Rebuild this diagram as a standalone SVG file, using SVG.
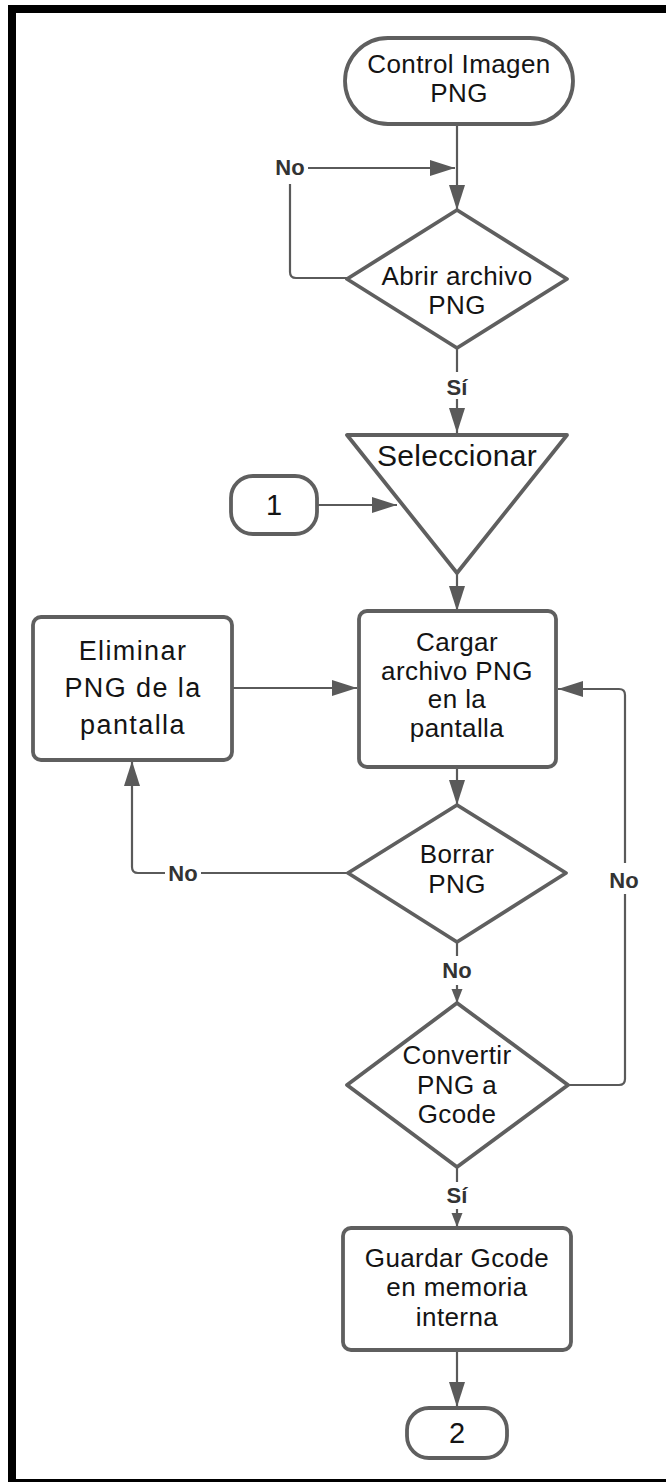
<svg xmlns="http://www.w3.org/2000/svg" width="666" height="1482" viewBox="0 0 666 1482">
  <style>
    .shape { fill: #ffffff; stroke: #5f5f5f; stroke-width: 3.8; stroke-linejoin: round; }
    .txt { font-family: "Liberation Sans", Arial, sans-serif; font-size: 26px; fill: #141414; text-anchor: middle; letter-spacing: 0.4px; }
    .big { font-size: 27px; letter-spacing: 1.4px; }
    .sel { font-size: 30px; letter-spacing: 0.3px; }
    .num { font-size: 29px; letter-spacing: 0; }
    .lbl { font-family: "Liberation Sans", Arial, sans-serif; font-size: 22px; font-weight: bold; fill: #333333; text-anchor: middle; }
    .wire { fill: none; stroke: #5a5a5a; stroke-width: 2.2; stroke-linejoin: round; }
    .arrow { marker-end: url(#head); }
    .arrow-sm { marker-end: url(#head-sm); }
  </style>
  <defs>
    <marker id="head" markerUnits="userSpaceOnUse" markerWidth="26" markerHeight="18" refX="25" refY="8" orient="auto">
      <path d="M0,0 L25,8 L0,16 Z" fill="#5a5a5a"/>
    </marker>
    <marker id="head-sm" markerUnits="userSpaceOnUse" markerWidth="16" markerHeight="12" refX="14" refY="5.5" orient="auto">
      <path d="M0,0 L14,5.5 L0,11 Z" fill="#5a5a5a"/>
    </marker>
  </defs>

  <rect width="666" height="1482" fill="#ffffff"/>
  <!-- outer frame -->
  <rect x="12" y="9" width="664" height="1474" fill="none" stroke="#000000" stroke-width="8"/>

  <!-- connectors -->
  <g id="connectors">
    <path class="wire arrow" d="M457,124 V210"/>
    <path class="wire" d="M347,278 H296 Q290,278 290,272 V184"/>
    <path class="wire arrow" d="M308,168 H455"/>
    <text class="lbl" x="290" y="175">No</text>

    <path class="wire" d="M457,348 V372"/>
    <text class="lbl" x="457" y="395">Sí</text>
    <path class="wire arrow" d="M457,399 V433"/>

    <path class="wire arrow" d="M317,505 H397"/>
    <path class="wire arrow" d="M457,573 V611"/>
    <path class="wire arrow" d="M232,688 H357"/>
    <path class="wire arrow" d="M457,767 V805"/>

    <path class="wire" d="M348,873 H201"/>
    <text class="lbl" x="183" y="881">No</text>
    <path class="wire arrow" d="M165,873 H138 Q132,873 132,867 V761"/>

    <path class="wire" d="M457,942 V956"/>
    <text class="lbl" x="457" y="978">No</text>
    <path class="wire arrow-sm" d="M457,985 V1003"/>

    <path class="wire" d="M568,1085 H619 Q625,1085 625,1079 V894"/>
    <text class="lbl" x="624" y="888">No</text>
    <path class="wire arrow" d="M625,863 V695 Q625,689 619,689 H558"/>

    <path class="wire" d="M457,1167 V1182"/>
    <text class="lbl" x="457" y="1203">Sí</text>
    <path class="wire arrow-sm" d="M457,1209 V1227"/>

    <path class="wire arrow" d="M457,1350 V1407"/>
  </g>

  <g id="start">
    <rect class="shape" x="345" y="38" width="228" height="86" rx="43"/>
    <text class="txt" x="459" y="73">Control Imagen</text>
    <text class="txt" x="459" y="102">PNG</text>
  </g>

  <g id="open-file">
    <polygon class="shape" points="457,210 567,279 457,348 347,279"/>
    <text class="txt" x="457" y="285">Abrir archivo</text>
    <text class="txt" x="457" y="314">PNG</text>
  </g>

  <g id="select">
    <polygon class="shape" points="347,435 567,435 457,573"/>
    <text class="txt sel" x="457" y="466">Seleccionar</text>
  </g>

  <g id="connector-1">
    <rect class="shape" x="231" y="476" width="86" height="58" rx="22"/>
    <text class="txt num" x="274" y="515">1</text>
  </g>

  <g id="remove-png">
    <rect class="shape" x="33" y="617" width="199" height="143" rx="8"/>
    <text class="txt big" x="133" y="660">Eliminar</text>
    <text class="txt big" x="133" y="697">PNG de la</text>
    <text class="txt big" x="133" y="734">pantalla</text>
  </g>

  <g id="load-png">
    <rect class="shape" x="359" y="611" width="197" height="156" rx="8"/>
    <text class="txt" x="457" y="651">Cargar</text>
    <text class="txt" x="457" y="680">archivo PNG</text>
    <text class="txt" x="457" y="708">en la</text>
    <text class="txt" x="457" y="737">pantalla</text>
  </g>

  <g id="delete-png">
    <polygon class="shape" points="457,805 566,873 457,942 348,873"/>
    <text class="txt" x="457" y="863">Borrar</text>
    <text class="txt" x="457" y="893">PNG</text>
  </g>

  <g id="convert">
    <polygon class="shape" points="457,1003 568,1085 457,1167 347,1085"/>
    <text class="txt" x="457" y="1064">Convertir</text>
    <text class="txt" x="457" y="1094">PNG a</text>
    <text class="txt" x="457" y="1123">Gcode</text>
  </g>

  <g id="save-gcode">
    <rect class="shape" x="343" y="1228" width="228" height="122" rx="8"/>
    <text class="txt" x="457" y="1267">Guardar Gcode</text>
    <text class="txt" x="457" y="1296">en memoria</text>
    <text class="txt" x="457" y="1326">interna</text>
  </g>

  <g id="connector-2">
    <rect class="shape" x="407" y="1408" width="100" height="50" rx="22"/>
    <text class="txt num" x="457" y="1443">2</text>
  </g>
</svg>
